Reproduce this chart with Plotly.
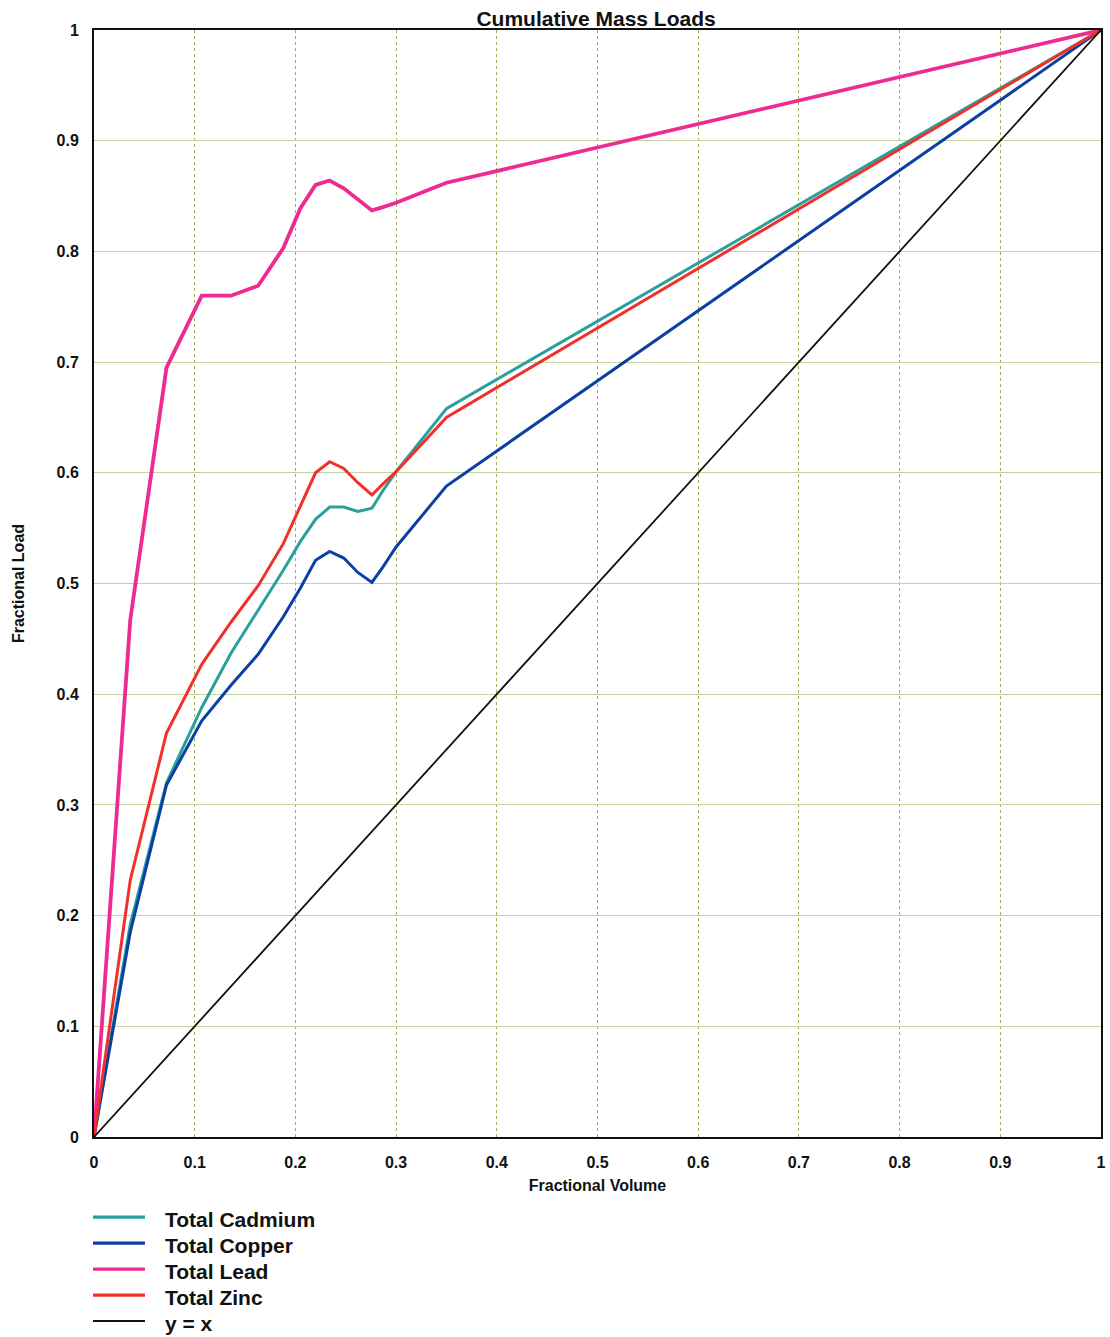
import plotly.graph_objects as go

# Fractional volume at each sampled point (shared by all metals)
frac_volume = [0.0, 0.036, 0.072, 0.107, 0.136, 0.163, 0.188, 0.205, 0.220,
               0.234, 0.248, 0.262, 0.276, 0.287, 0.300, 0.350, 1.0]

# Cumulative fractional loads per metal
cadmium = [0.0, 0.192, 0.320, 0.388, 0.437, 0.476, 0.512, 0.538, 0.558,
           0.569, 0.569, 0.565, 0.568, 0.584, 0.601, 0.658, 1.0]
copper = [0.0, 0.185, 0.318, 0.376, 0.408, 0.436, 0.470, 0.496, 0.521,
          0.529, 0.523, 0.510, 0.501, 0.515, 0.533, 0.588, 1.0]
lead = [0.0, 0.467, 0.695, 0.760, 0.760, 0.769, 0.803, 0.839, 0.860,
        0.864, 0.857, 0.847, 0.837, 0.840, 0.844, 0.862, 1.0]
zinc = [0.0, 0.232, 0.365, 0.427, 0.465, 0.498, 0.536, 0.570, 0.600,
        0.610, 0.604, 0.591, 0.580, 0.590, 0.601, 0.650, 1.0]

# Reference line
identity = [0.0, 1.0]

tick_vals = [0, 0.1, 0.2, 0.3, 0.4, 0.5, 0.6, 0.7, 0.8, 0.9, 1]
tick_text = ["0", "0.1", "0.2", "0.3", "0.4", "0.5", "0.6", "0.7", "0.8", "0.9", "1"]

series = [
    ("Total Cadmium", cadmium, "#2a9f9c", 3.0),
    ("Total Copper", copper, "#0b40a2", 3.0),
    ("Total Lead", lead, "#ee2b90", 3.8),
    ("Total Zinc", zinc, "#f2302b", 3.0),
]
identity_style = ("y = x", "#111111", 1.8)

font_family = "Liberation Sans, Arial, sans-serif"

fig = go.Figure()
for name, vals, color, width in series:
    fig.add_trace(go.Scatter(
        x=frac_volume, y=vals, mode="lines", name=name,
        line=dict(color=color, width=width), showlegend=False,
    ))
fig.add_trace(go.Scatter(
    x=identity, y=identity, mode="lines", name=identity_style[0],
    line=dict(color=identity_style[1], width=identity_style[2]),
    showlegend=False,
))

# Key below the plot: a short line sample and a label per trace
key_entries = [(n, c, w) for n, _, c, w in series] + [identity_style]
key_top = -0.0741      # paper y of the first entry
key_step = 26 / 1107   # row spacing in paper units
for i, (name, color, width) in enumerate(key_entries):
    yk = key_top - i * key_step
    fig.add_shape(
        type="line", xref="paper", yref="paper",
        x0=-0.001, x1=0.0506, y0=yk + 0.0018, y1=yk + 0.0018,
        line=dict(color=color, width=3.2 if width > 2 else 2.0),
    )
    fig.add_annotation(
        xref="paper", yref="paper", x=0.0685, y=yk,
        xanchor="left", yanchor="middle", showarrow=False,
        text=name,
        font=dict(size=21, family=font_family, weight="bold", color="#111111"),
    )

fig.update_layout(
    width=1110, height=1337,
    margin=dict(l=94, r=9, t=30, b=200, autoexpand=False),
    paper_bgcolor="white", plot_bgcolor="white",
    font=dict(family=font_family, color="#111111", size=16, weight="bold"),
    title=dict(
        text="Cumulative Mass Loads",
        x=0.537, xanchor="center",
        y=1 - 19 / 1337, yanchor="middle", yref="container",
        font=dict(size=21, family=font_family, weight="bold", color="#111111"),
    ),
    showlegend=False,
    xaxis=dict(
        range=[0, 1], tickvals=tick_vals, ticktext=tick_text,
        showgrid=True, gridcolor="#a3ad62", griddash="dot", gridwidth=1,
        zeroline=False, showline=True, linecolor="#111111", linewidth=2,
        mirror=True, ticks="", ticklabelstandoff=10,
        tickfont=dict(size=16, family=font_family, weight="bold"),
        title=dict(text="Fractional Volume", standoff=10,
                   font=dict(size=16, family=font_family, weight="bold")),
    ),
    yaxis=dict(
        range=[0, 1], tickvals=tick_vals, ticktext=tick_text,
        showgrid=True, gridcolor="#c3d4a2", gridwidth=1.4,
        zeroline=False, showline=True, linecolor="#111111", linewidth=2,
        mirror=True, ticks="", ticklabelstandoff=10,
        tickfont=dict(size=16, family=font_family, weight="bold"),
        title=dict(text="Fractional Load", standoff=28,
                   font=dict(size=16, family=font_family, weight="bold")),
    ),
)

fig.write_html("out.html")
